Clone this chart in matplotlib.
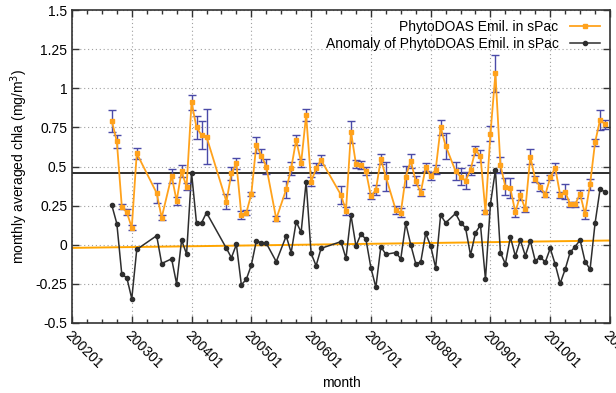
import matplotlib
matplotlib.use("Agg")
import matplotlib.pyplot as plt
import numpy as np

plt.rcParams['font.family'] = ['Liberation Sans', 'DejaVu Sans']

# months as YYYYMM
months = ["200209","200210","200211","200212","200301","200302","200306","200307","200309","200310",
          "200311","200312","200401","200402","200403","200404","200408","200409","200410","200411",
          "200412","200501","200502","200503","200504","200506","200508","200509","200510","200511",
          "200512","200601","200602","200603","200607","200608","200609","200610","200611","200612",
          "200701","200702","200703","200704","200706","200707","200708","200709","200710","200711",
          "200712","200801","200802","200803","200804","200806","200807","200808","200809","200810",
          "200811","200812","200901","200902","200903","200904","200905","200906","200907","200908",
          "200909","200910","200911","200912","201001","201002","201003","201004","201005","201006",
          "201007","201008","201009","201010","201011","201012"]

chla = [0.79, 0.66, 0.243, 0.207, 0.11, 0.584, 0.33, 0.173, 0.44, 0.28,
        0.47, 0.37, 0.91, 0.75, 0.70, 0.69, 0.275, 0.456, 0.52, 0.19,
        0.205, 0.324, 0.64, 0.57, 0.50, 0.165, 0.354, 0.488, 0.67, 0.524,
        0.829, 0.403, 0.488, 0.541, 0.318, 0.216, 0.722, 0.516, 0.51, 0.471,
        0.31, 0.35, 0.548, 0.435, 0.222, 0.205, 0.435, 0.537, 0.408, 0.333,
        0.495, 0.44, 0.478, 0.75, 0.633, 0.47, 0.435, 0.41, 0.478, 0.605,
        0.566, 0.21, 0.71, 1.095, 0.51, 0.371, 0.36, 0.207, 0.318, 0.226,
        0.563, 0.418, 0.371, 0.318, 0.43, 0.492, 0.318, 0.339, 0.258, 0.26,
        0.324, 0.194, 0.386, 0.654, 0.797, 0.771]

chla_err = [0.069, 0.04, 0.015, 0.02, 0.015, 0.037, 0.062, 0.015, 0.045, 0.027,
            0.04, 0.023, 0.048, 0.072, 0.09, 0.175, 0.049, 0.043, 0.035, 0.028,
            0.017, 0.014, 0.051, 0.044, 0.05, 0.016, 0.054, 0.04, 0.03, 0.027,
            0.038, 0.03, 0.032, 0.031, 0.058, 0.028, 0.069, 0.025, 0.028, 0.025,
            0.019, 0.032, 0.035, 0.093, 0.028, 0.027, 0.069, 0.044, 0.029, 0.021,
            0.025, 0.025, 0.029, 0.05, 0.082, 0.056, 0.053, 0.053, 0.034, 0.029,
            0.037, 0.013, 0.047, 0.117, 0.051, 0.053, 0.064, 0.027, 0.03, 0.018,
            0.05, 0.019, 0.026, 0.016, 0.016, 0.032, 0.021, 0.046, 0.014, 0.016,
            0.027, 0.027, 0.034, 0.022, 0.062, 0.029]

anomaly = [0.252, 0.135, -0.19, -0.21, -0.345, -0.03, 0.058, -0.12, -0.09, -0.25,
           0.03, -0.06, 0.46, 0.137, 0.14, 0.205, -0.023, -0.083, 0.002, -0.257,
           -0.22, -0.13, 0.024, 0.013, 0.01, -0.108, 0.056, -0.05, 0.147, 0.08,
           0.403, -0.055, -0.134, -0.023, 0.02, -0.087, 0.19, -0.008, 0.068, 0.036,
           -0.147, -0.272, -0.012, -0.061, -0.05, -0.09, 0.137, 0.0, -0.12, -0.112,
           0.073, -0.008, -0.147, 0.19, 0.14, 0.2, 0.14, 0.109, -0.066, 0.077,
           0.126, -0.221, 0.26, 0.478, -0.05, -0.123, 0.05, -0.072, 0.03, -0.07,
           0.026, -0.104, -0.077, -0.112, -0.023, -0.125, -0.247, -0.157, -0.048, -0.012,
           0.03, -0.108, -0.157, 0.137, 0.354, 0.339]

mean_level = 0.456
trend_ends = [-0.02, 0.027]   # anomaly trend at 200201 and 201101

xtick_labels = ["200201","200301","200401","200501","200601","200701",
                "200801","200901","201001","201101"]
ytick_values = [-0.5, -0.25, 0, 0.25, 0.5, 0.75, 1, 1.25, 1.5]


def month_index(s):
    return (int(s[:4]) - 2002) * 12 + int(s[4:]) - 1

x = np.array([month_index(m) for m in months])
xt = [month_index(s) for s in xtick_labels]
x_end = xt[-1]

fig = plt.figure(figsize=(6.16, 3.93), dpi=100)
ax = fig.add_axes([72/616, 1-323/393, (610-72)/616, (323-10)/393])

orange = '#ffa21c'
dark = '#2e2e2e'

ax.plot([0, x_end], [mean_level, mean_level], color=dark, lw=1.4, zorder=2)
ax.plot([0, x_end], trend_ends, color='#ffa500', lw=1.4, zorder=2)

ax.plot(x, anomaly, color=dark, lw=1.1, marker='o', ms=3.0, mfc=dark, mec=dark,
        zorder=3, label='Anomaly of PhytoDOAS Emil. in sPac')

ax.errorbar(x, chla, yerr=chla_err, fmt='none', ecolor='#4a4aa8', elinewidth=1.0,
            capsize=3, capthick=1.0, zorder=4)
ax.plot(x, chla, color=orange, lw=1.3, marker='s', ms=3.4, mfc=orange, mec=orange,
        zorder=5, label='PhytoDOAS Emil. in sPac')

ax.set_xlim(0, x_end)
ax.set_ylim(-0.5, 1.5)
ax.set_xticks(xt)
ax.set_xticks(np.arange(0, x_end + 1, 3), minor=True)
ax.set_xticklabels(xtick_labels, rotation=-45, ha='left', va='top',
                   rotation_mode='anchor', fontsize=10)
ax.set_yticks(ytick_values)
ax.set_yticklabels(['%g' % v for v in ytick_values], fontsize=10)

ax.tick_params(axis='both', which='both', direction='in', top=True, right=True,
               color='#333333')
ax.tick_params(axis='both', which='major', length=5, width=1)
ax.tick_params(axis='x', which='minor', length=3, width=1)
ax.tick_params(axis='x', which='major', pad=4)

ax.grid(True, which='major', linestyle=(0, (1, 2.5)), color='#a0a0a0', lw=0.8)
for s in ax.spines.values():
    s.set_color('#333333')
    s.set_linewidth(1.2)

ax.set_xlabel('month', fontsize=10, va='center')
ax.xaxis.set_label_coords(0.5, -60/313)
ax.set_ylabel('monthly averaged chla (mg/m$^3$)', fontsize=10, labelpad=4)

handles, labels = ax.get_legend_handles_labels()
leg = ax.legend(handles[::-1], labels[::-1], loc='upper right', frameon=False,
                markerfirst=False, fontsize=10, handlelength=2.2, borderaxespad=0.3,
                labelspacing=0.25, handletextpad=0.8)
for t in leg.get_texts():
    t.set_ha('right')

fig.savefig('out.png', dpi=100)
